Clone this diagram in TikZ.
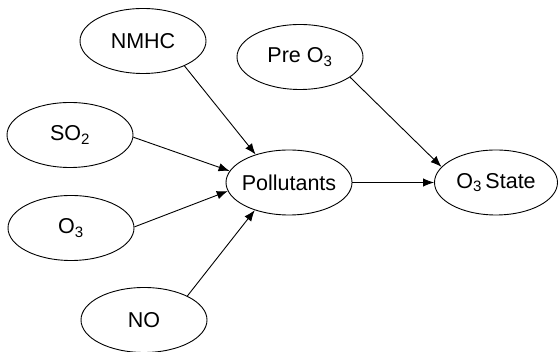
\documentclass[tikz,border=0pt]{standalone}
\usepackage{fontspec}
\setmainfont{Liberation Sans}
\usetikzlibrary{shapes.geometric,arrows.meta}
\begin{document}
\begin{tikzpicture}[x=1pt,y=1pt,
  var/.style={ellipse,draw,line width=0.9pt,inner sep=0pt,minimum width=126pt,minimum height=65pt,font=\fontsize{21.5pt}{24pt}\selectfont},
  link/.style={line width=0.9pt,-{Latex[length=11pt,width=8.5pt]}}]
\useasboundingbox (0,0) rectangle (559,352);
\node[var] (nmhc) at (143,311) {\makebox[0pt]{NMHC}};
\node[var] (pre) at (300,295) {\makebox[0pt]{Pre O\textsubscript{3}}};
\node[var] (so2) at (70,217) {\makebox[0pt]{SO\textsubscript{2}}};
\node[var] (o3) at (71,124) {\makebox[0pt]{O\textsubscript{3}}};
\node[var] (poll) at (289,169.5) {\makebox[0pt]{Pollutants}};
\node[var,minimum width=123pt] (state) at (496,169.5) {\makebox[0pt]{O\textsubscript{3}\,State}};
\node[var] (no) at (144,32) {\makebox[0pt]{NO}};
\draw[link] (nmhc.-31) -- (poll.140);
\draw[link] (so2.-2) -- (poll.169);
\draw[link] (o3.1) -- (poll.-172);
\draw[link] (no.29) -- (poll.-141);
\draw[link] (pre.-22) -- (state.164);
\draw[link] (poll.east) -- (state.west);
\end{tikzpicture}
\end{document}
